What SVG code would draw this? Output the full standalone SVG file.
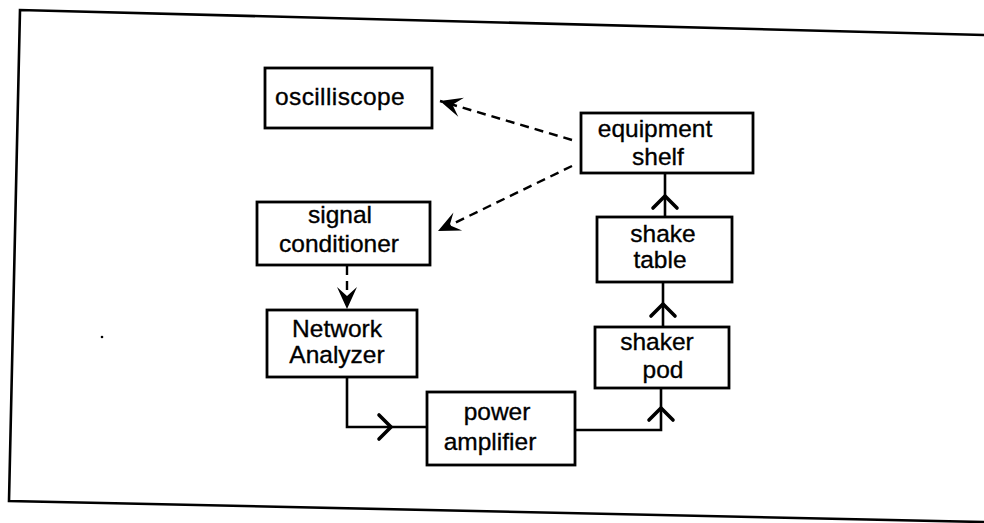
<svg xmlns="http://www.w3.org/2000/svg" width="984" height="523" viewBox="0 0 984 523">
<style>
.box{fill:#fff;stroke:#000;stroke-width:2.8}
.t{font-family:"Liberation Sans",Arial,sans-serif;font-size:24.5px;fill:#000;stroke:#000;stroke-width:0.35;text-anchor:middle}
.ln{fill:none;stroke:#000;stroke-width:2.6;stroke-linejoin:miter}
.dash{fill:none;stroke:#000;stroke-width:2.4;stroke-dasharray:9 6}
.chev{fill:none;stroke:#000;stroke-width:3.6;stroke-linecap:round;stroke-linejoin:miter}
.frame{fill:none;stroke:#000;stroke-width:2.6}
</style>
<defs>
<marker id="dart" viewBox="-24 -12 26 24" refX="0" refY="0" markerWidth="26" markerHeight="24" markerUnits="userSpaceOnUse" orient="auto">
<path d="M0,0 L-22,-10 L-13,0 L-22,10 Z" fill="#000"/>
</marker>
</defs>
<rect width="984" height="523" fill="#fff"/>
<path class="frame" d="M984,35 L20,10 L9,501 L984,522"/>
<circle cx="102" cy="337" r="1.3" fill="#000"/>

<g id="connectors">
<path class="dash" d="M572,140 L440,101" marker-end="url(#dart)"/>
<path class="dash" d="M572,166 L438,231" marker-end="url(#dart)"/>
<path class="dash" d="M347,266 L347,309" marker-end="url(#dart)"/>
<path class="ln" d="M347,377 L347,427 L427,427"/>
<path class="chev" d="M379,415 L391,427 L379,439"/>
<path class="ln" d="M575,430 L661,430 L661,388"/>
<path class="chev" d="M649,420 L661,408 L673,420"/>
<path class="ln" d="M663,327 L663,282"/>
<path class="chev" d="M651,316 L663,304 L675,316"/>
<path class="ln" d="M665,217 L665,173"/>
<path class="chev" d="M653,208 L665,196 L677,208"/>
</g>

<g id="oscilloscope">
<rect class="box" x="265" y="68" width="167" height="60"/>
<text class="t" x="340" y="105" style="letter-spacing:0.4px">oscilliscope</text>
</g>
<g id="equipment-shelf">
<rect class="box" x="581" y="113" width="172" height="60"/>
<text class="t" x="655" y="137">equipment</text>
<text class="t" x="658" y="165">shelf</text>
</g>
<g id="signal-conditioner">
<rect class="box" x="257" y="202" width="173" height="63"/>
<text class="t" x="340" y="223">signal</text>
<text class="t" x="339" y="252">conditioner</text>
</g>
<g id="shake-table">
<rect class="box" x="597" y="217" width="135" height="65"/>
<text class="t" x="663" y="242">shake</text>
<text class="t" x="660" y="268">table</text>
</g>
<g id="network-analyzer">
<rect class="box" x="267" y="310" width="150" height="67"/>
<text class="t" x="337" y="337">Network</text>
<text class="t" x="337" y="363">Analyzer</text>
</g>
<g id="shaker-pod">
<rect class="box" x="595" y="327" width="134" height="61"/>
<text class="t" x="657" y="350">shaker</text>
<text class="t" x="663" y="378">pod</text>
</g>
<g id="power-amplifier">
<rect class="box" x="427" y="392" width="148" height="73"/>
<text class="t" x="497" y="420">power</text>
<text class="t" x="490" y="450">amplifier</text>
</g>
</svg>
